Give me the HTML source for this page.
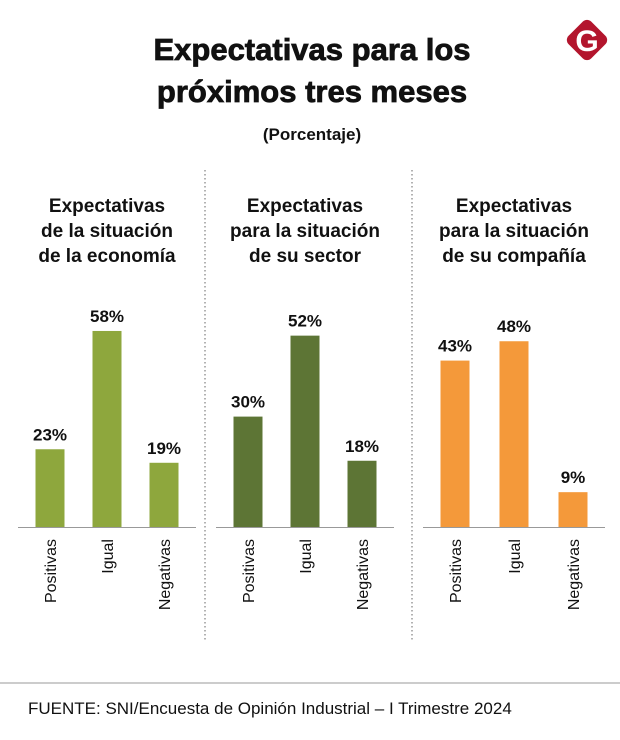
<!DOCTYPE html>
<html><head><meta charset="utf-8"><style>
body{margin:0;width:620px;height:740px;background:#fff;font-family:"Liberation Sans",sans-serif;overflow:hidden;position:relative}
</style></head><body>
<svg width="620" height="740" style="position:absolute;left:0;top:0">
<g>
<rect x="571" y="24" width="32" height="32" rx="6" fill="#b3152d" transform="rotate(45 587 40)"/>
<text x="587" y="51" text-anchor="middle" font-size="30" font-weight="bold" fill="#fff">G</text>
</g>
<text x="312" y="60" text-anchor="middle" font-size="31" font-weight="bold" fill="#111" stroke="#111" stroke-width="0.8">Expectativas para los</text>
<text x="312" y="102" text-anchor="middle" font-size="31" font-weight="bold" fill="#111" stroke="#111" stroke-width="0.8">próximos tres meses</text>
<text x="312" y="140" text-anchor="middle" font-size="17" font-weight="bold" fill="#111">(Porcentaje)</text>
<line x1="205" y1="170" x2="205" y2="640" stroke="#666" stroke-dasharray="1.5,2.5"/>
<line x1="412" y1="170" x2="412" y2="640" stroke="#666" stroke-dasharray="1.5,2.5"/>
<g id="panels"></g>
<line x1="0" y1="683" x2="620" y2="683" stroke="#999"/>
<text x="28" y="714" font-size="17" fill="#111">FUENTE: SNI/Encuesta de Opinión Industrial – I Trimestre 2024</text>
</svg>
<script>
const categories=["Positivas","Igual","Negativas"];
const panelTitles=[["Expectativas","de la situación","de la economía"],["Expectativas","para la situación","de su sector"],["Expectativas","para la situación","de su compañía"]];
const economyValues=[23,58,19];
const sectorValues=[30,52,18];
const companyValues=[43,48,9];
const allValues=[economyValues,sectorValues,companyValues];
const colors=["#8ea73d","#5d7535","#f4993a"];
const panelCenters=[107,305,514];
const panelSpacing=[57,57,59];
const pxPerPct=[3.38,3.68,3.87];
const baseY=527, barW=29;
const NS="http://www.w3.org/2000/svg";
const g=document.getElementById('panels');
function mk(t,a,p){const e=document.createElementNS(NS,t);for(const k in a)e.setAttribute(k,a[k]);(p||g).appendChild(e);return e;}
function yScale(p,v){return baseY-v*pxPerPct[p];}
allValues.forEach((vals,p)=>{
  const cx=panelCenters[p], spacing=panelSpacing[p];
  panelTitles[p].forEach((s,i)=>{
    const t=mk('text',{x:cx,y:212+i*25,'text-anchor':'middle','font-size':19,'font-weight':'bold',fill:'#111'});
    
    
    t.textContent=s;
  });
  vals.forEach((v,i)=>{
    const x=cx+(i-1)*spacing;
    const y=yScale(p,v);
    const r=mk('rect',{x:x-barW/2,y:y,width:barW,height:baseY-y,fill:colors[p]});
    
    
    const l=mk('text',{x:x,y:y-9,'text-anchor':'middle','font-size':17,'font-weight':'bold',fill:'#111'});
    
    
    l.textContent=v+'%';
    const c=mk('text',{x:0,y:0,'text-anchor':'end','font-size':16,fill:'#111',transform:'translate('+(x+6)+','+(baseY+12)+') rotate(-90)'});
    
    
    c.textContent=categories[i];
  });
  const ax=mk('line',{x1:cx-spacing-32,x2:cx+spacing+32,y1:baseY+0.5,y2:baseY+0.5,stroke:'#999'});
  
  
});
</script>
</body></html>
